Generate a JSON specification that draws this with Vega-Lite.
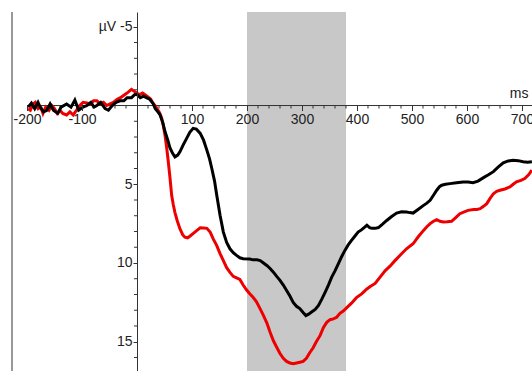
{
  "$schema": "https://vega.github.io/schema/vega-lite/v6.json",
  "width": 520,
  "height": 359,
  "autosize": {"type": "none"},
  "padding": {"left": 12, "top": 12, "right": 0, "bottom": 0},
  "background": "white",
  "config": {
    "view": {"stroke": null},
    "axis": {"labelFont": "Liberation Sans Narrow, Liberation Sans, Arial", "titleFont": "Liberation Sans Narrow, Liberation Sans, Arial", "labelFontSize": 14, "titleFontSize": 14, "labelColor": "#222", "titleColor": "#222", "grid": false}
  },
  "datasets": {
    "black": [
      {"t":-198,"v":0.1},{"t":-192,"v":-0.15},{"t":-186,"v":0.2},{"t":-180,"v":-0.2},{"t":-176,"v":0.1},{"t":-170,"v":0.4},{"t":-164,"v":0.3},{"t":-158,"v":-0.1},{"t":-152,"v":0.3},{"t":-144,"v":0.5},{"t":-138,"v":0.1},{"t":-128,"v":-0.1},{"t":-120,"v":0.1},{"t":-113,"v":-0.35},{"t":-106,"v":0.3},{"t":-98,"v":0.1},{"t":-91,"v":0.0},{"t":-84,"v":-0.2},{"t":-78,"v":0.1},{"t":-73,"v":0.0},{"t":-66,"v":-0.2},{"t":-58,"v":0.2},{"t":-52,"v":0.3},{"t":-45,"v":0.0},{"t":-38,"v":-0.2},{"t":-31,"v":-0.3},{"t":-24,"v":-0.3},{"t":-18,"v":-0.5},{"t":-10,"v":-0.5},{"t":-4,"v":-0.7},{"t":0,"v":-0.7},{"t":6,"v":-0.5},{"t":12,"v":-0.6},{"t":17,"v":-0.5},{"t":23,"v":-0.4},{"t":29,"v":-0.15},{"t":33,"v":0.18},{"t":38,"v":0.4},{"t":42,"v":0.6},{"t":47,"v":1.1},{"t":51,"v":1.67},{"t":56,"v":2.2},{"t":60,"v":2.7},{"t":65,"v":3.05},{"t":69,"v":3.26},{"t":74,"v":3.15},{"t":78,"v":2.94},{"t":84,"v":2.5},{"t":90,"v":2.1},{"t":96,"v":1.7},{"t":102,"v":1.45},{"t":108,"v":1.5},{"t":115,"v":1.77},{"t":121,"v":2.2},{"t":127,"v":2.83},{"t":132,"v":3.4},{"t":136,"v":4.0},{"t":141,"v":4.8},{"t":145,"v":5.7},{"t":151,"v":6.97},{"t":157,"v":8.04},{"t":163,"v":8.7},{"t":169,"v":9.1},{"t":175,"v":9.35},{"t":181,"v":9.52},{"t":187,"v":9.67},{"t":193,"v":9.73},{"t":205,"v":9.75},{"t":211,"v":9.8},{"t":218,"v":9.8},{"t":224,"v":9.85},{"t":230,"v":10.0},{"t":236,"v":10.16},{"t":242,"v":10.35},{"t":248,"v":10.58},{"t":254,"v":10.85},{"t":260,"v":11.1},{"t":266,"v":11.4},{"t":272,"v":11.75},{"t":278,"v":12.1},{"t":284,"v":12.5},{"t":290,"v":12.75},{"t":296,"v":12.9},{"t":302,"v":13.15},{"t":307,"v":13.34},{"t":312,"v":13.25},{"t":318,"v":13.1},{"t":324,"v":12.95},{"t":330,"v":12.7},{"t":336,"v":12.3},{"t":342,"v":11.86},{"t":348,"v":11.4},{"t":354,"v":10.9},{"t":360,"v":10.5},{"t":366,"v":10.05},{"t":372,"v":9.6},{"t":378,"v":9.2},{"t":384,"v":8.85},{"t":390,"v":8.57},{"t":396,"v":8.3},{"t":402,"v":8.04},{"t":408,"v":7.9},{"t":413,"v":7.75},{"t":418,"v":7.6},{"t":423,"v":7.75},{"t":427,"v":7.8},{"t":433,"v":7.8},{"t":439,"v":7.75},{"t":446,"v":7.55},{"t":454,"v":7.3},{"t":463,"v":7.05},{"t":472,"v":6.83},{"t":481,"v":6.75},{"t":490,"v":6.76},{"t":496,"v":6.8},{"t":502,"v":6.83},{"t":511,"v":6.6},{"t":521,"v":6.34},{"t":527,"v":6.2},{"t":533,"v":6.02},{"t":539,"v":5.7},{"t":545,"v":5.38},{"t":550,"v":5.15},{"t":554,"v":5.06},{"t":561,"v":5.0},{"t":569,"v":4.96},{"t":581,"v":4.9},{"t":593,"v":4.85},{"t":602,"v":4.85},{"t":611,"v":4.9},{"t":620,"v":4.8},{"t":630,"v":4.58},{"t":639,"v":4.4},{"t":648,"v":4.2},{"t":657,"v":3.9},{"t":666,"v":3.64},{"t":675,"v":3.52},{"t":684,"v":3.47},{"t":693,"v":3.5},{"t":702,"v":3.57},{"t":710,"v":3.6},{"t":718,"v":3.57}
    ],
    "red": [
      {"t":-198,"v":0.2},{"t":-194,"v":0.3},{"t":-189,"v":-0.1},{"t":-185,"v":-0.2},{"t":-180,"v":0.2},{"t":-175,"v":0.1},{"t":-171,"v":0.5},{"t":-166,"v":0.1},{"t":-160,"v":0.3},{"t":-155,"v":0.0},{"t":-150,"v":0.2},{"t":-145,"v":0.5},{"t":-140,"v":0.3},{"t":-135,"v":0.5},{"t":-128,"v":0.6},{"t":-122,"v":0.4},{"t":-116,"v":0.6},{"t":-110,"v":0.3},{"t":-104,"v":0.0},{"t":-98,"v":-0.2},{"t":-91,"v":-0.16},{"t":-85,"v":-0.1},{"t":-79,"v":-0.3},{"t":-73,"v":-0.3},{"t":-67,"v":-0.1},{"t":-61,"v":-0.2},{"t":-55,"v":0.0},{"t":-49,"v":-0.1},{"t":-43,"v":-0.2},{"t":-36,"v":-0.4},{"t":-30,"v":-0.5},{"t":-22,"v":-0.7},{"t":-16,"v":-0.85},{"t":-10,"v":-1.03},{"t":-5,"v":-0.9},{"t":0,"v":-0.78},{"t":5,"v":-0.7},{"t":10,"v":-0.8},{"t":14,"v":-0.7},{"t":20,"v":-0.55},{"t":25,"v":-0.4},{"t":29,"v":-0.15},{"t":33,"v":0.0},{"t":36,"v":0.18},{"t":41,"v":0.45},{"t":45,"v":0.82},{"t":48,"v":1.3},{"t":51,"v":1.9},{"t":54,"v":2.7},{"t":57,"v":3.6},{"t":60,"v":4.6},{"t":63,"v":5.7},{"t":66,"v":6.3},{"t":69,"v":6.8},{"t":73,"v":7.3},{"t":78,"v":7.82},{"t":83,"v":8.2},{"t":87,"v":8.36},{"t":92,"v":8.4},{"t":96,"v":8.3},{"t":103,"v":8.1},{"t":109,"v":7.93},{"t":115,"v":7.76},{"t":121,"v":7.78},{"t":127,"v":7.8},{"t":133,"v":8.04},{"t":139,"v":8.5},{"t":145,"v":8.9},{"t":151,"v":9.4},{"t":157,"v":9.85},{"t":163,"v":10.3},{"t":169,"v":10.6},{"t":175,"v":10.85},{"t":181,"v":10.95},{"t":187,"v":11.05},{"t":193,"v":11.4},{"t":199,"v":11.7},{"t":205,"v":11.95},{"t":211,"v":12.18},{"t":217,"v":12.45},{"t":223,"v":12.85},{"t":230,"v":13.34},{"t":236,"v":13.8},{"t":242,"v":14.4},{"t":248,"v":14.94},{"t":254,"v":15.35},{"t":260,"v":15.75},{"t":266,"v":16.05},{"t":272,"v":16.25},{"t":278,"v":16.35},{"t":284,"v":16.4},{"t":290,"v":16.35},{"t":296,"v":16.3},{"t":302,"v":16.25},{"t":308,"v":16.05},{"t":314,"v":15.7},{"t":320,"v":15.4},{"t":326,"v":15.0},{"t":333,"v":14.6},{"t":339,"v":14.1},{"t":345,"v":13.77},{"t":351,"v":13.6},{"t":357,"v":13.55},{"t":363,"v":13.45},{"t":369,"v":13.2},{"t":375,"v":13.05},{"t":381,"v":12.85},{"t":390,"v":12.55},{"t":399,"v":12.2},{"t":409,"v":11.95},{"t":418,"v":11.65},{"t":424,"v":11.5},{"t":433,"v":11.3},{"t":442,"v":10.9},{"t":451,"v":10.5},{"t":460,"v":10.2},{"t":469,"v":9.85},{"t":478,"v":9.52},{"t":490,"v":9.1},{"t":502,"v":8.78},{"t":511,"v":8.35},{"t":521,"v":7.93},{"t":527,"v":7.7},{"t":533,"v":7.5},{"t":539,"v":7.35},{"t":545,"v":7.25},{"t":551,"v":7.35},{"t":557,"v":7.4},{"t":564,"v":7.38},{"t":572,"v":7.35},{"t":580,"v":7.1},{"t":587,"v":6.87},{"t":595,"v":6.75},{"t":602,"v":6.66},{"t":612,"v":6.6},{"t":618,"v":6.6},{"t":624,"v":6.55},{"t":630,"v":6.4},{"t":636,"v":6.23},{"t":642,"v":5.9},{"t":648,"v":5.6},{"t":654,"v":5.45},{"t":660,"v":5.38},{"t":669,"v":5.3},{"t":678,"v":5.17},{"t":684,"v":5.0},{"t":690,"v":4.85},{"t":698,"v":4.75},{"t":705,"v":4.64},{"t":712,"v":4.4},{"t":718,"v":4.1}
    ]
  },
  "layer": [
    {
      "data": {"values": [{"start": 200, "end": 380}]},
      "mark": {"type": "rect", "color": "#c8c8c8"},
      "encoding": {
        "x": {"field": "start", "type": "quantitative"},
        "x2": {"field": "end"}
      }
    },
    {
      "data": {"values": [{"edge": -227.3}]},
      "mark": {"type": "rule", "color": "#333333", "strokeWidth": 1},
      "encoding": {
        "x": {"field": "edge", "type": "quantitative"}
      }
    },
    {
      "data": {"values": [{"a": -200, "b": 718.2, "z": 0}]},
      "mark": {"type": "rule", "color": "#333333", "strokeWidth": 1},
      "encoding": {
        "x": {"field": "a", "type": "quantitative"},
        "x2": {"field": "b"},
        "y": {"field": "z", "type": "quantitative"}
      }
    },
    {
      "data": {"values": [{"m":-180},{"m":-160},{"m":-140},{"m":-120},{"m":-80},{"m":-60},{"m":-40},{"m":-20},{"m":20},{"m":40},{"m":60},{"m":80},{"m":120},{"m":140},{"m":160},{"m":180},{"m":220},{"m":240},{"m":260},{"m":280},{"m":320},{"m":340},{"m":360},{"m":380},{"m":420},{"m":440},{"m":460},{"m":480},{"m":520},{"m":540},{"m":560},{"m":580},{"m":620},{"m":640},{"m":660},{"m":680}]},
      "mark": {"type": "rule", "color": "#333333", "strokeWidth": 1},
      "encoding": {
        "x": {"field": "m", "type": "quantitative"},
        "y": {"datum": 0, "type": "quantitative"},
        "y2": {"datum": 0.19}
      }
    },
    {
      "data": {"values": [{"u":-4},{"u":-3},{"u":-2},{"u":-1},{"u":1},{"u":2},{"u":3},{"u":4},{"u":6},{"u":7},{"u":8},{"u":9},{"u":11},{"u":12},{"u":13},{"u":14},{"u":16}]},
      "mark": {"type": "rule", "color": "#333333", "strokeWidth": 1},
      "encoding": {
        "y": {"field": "u", "type": "quantitative"},
        "x": {"datum": -5.5, "type": "quantitative"},
        "x2": {"datum": 0}
      }
    },
    {
      "data": {"name": "red"},
      "mark": {"type": "line", "color": "#ee0000", "strokeWidth": 3, "clip": true},
      "encoding": {
        "x": {"field": "t", "type": "quantitative"},
        "y": {"field": "v", "type": "quantitative"}
      }
    },
    {
      "data": {"name": "black"},
      "mark": {"type": "line", "color": "#000000", "strokeWidth": 3, "clip": true},
      "encoding": {
        "x": {
          "field": "t", "type": "quantitative",
          "scale": {"domain": [-227.3, 718.2], "nice": false, "zero": false},
          "axis": {
            "orient": "bottom", "offset": -265.5, "domain": false, "zindex": 1,
            "values": [-200,-100,100,200,300,400,500,600,700],
            "labelExpr": "'' + datum.value",
            "tickSize": 5,
            "tickColor": "#333333",
            "labelPadding": 2, "labelOverlap": false, "labelFlush": false, "labelBound": false,
            "title": "ms", "titleX": 516, "titleY": -8, "titleAlign": "right", "titleBaseline": "alphabetic", "titleFontWeight": "normal", "titleAngle": 0
          }
        },
        "y": {
          "field": "v", "type": "quantitative",
          "scale": {"domain": [-5.94, 16.86], "reverse": true, "nice": false, "zero": false},
          "axis": {
            "orient": "left", "offset": -125, "zindex": 1,
            "values": [-5,5,10,15],
            "labelExpr": "datum.value === -5 ? 'µV -5' : '' + datum.value",
            "tickSize": 4,
            "tickColor": "#333333", "domainColor": "#333333",
            "labelPadding": 1, "labelOverlap": false, "labelFlush": false, "labelBound": false,
            "title": null
          }
        }
      }
    }
  ]
}
